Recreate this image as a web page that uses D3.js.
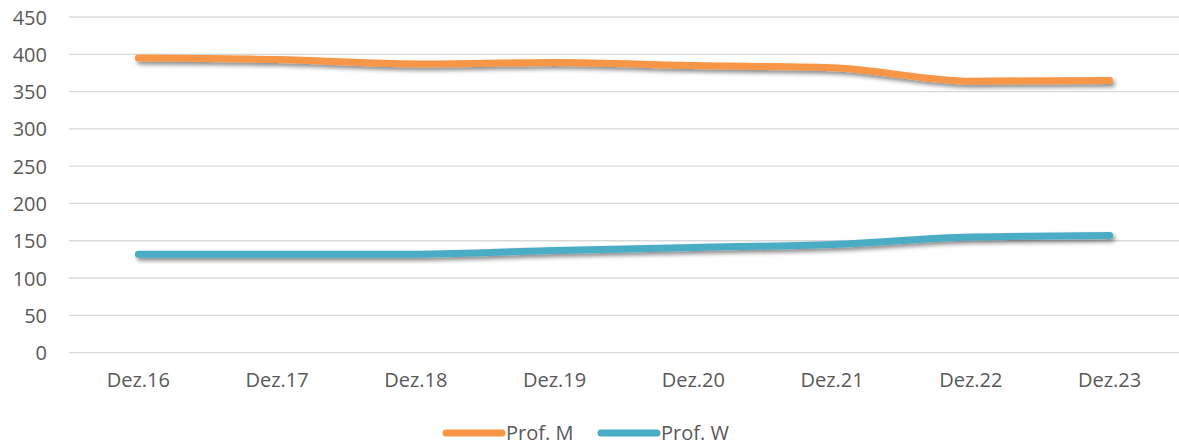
<!DOCTYPE html>
<html>
<head>
<meta charset="utf-8">
<script src="https://cdn.jsdelivr.net/npm/d3@7"></script>
<style>
  body { margin: 0; background: #fff; }
  svg text { font-family: "Open Sans", sans-serif; }
  .tick text { fill: #595959; font-size: 20px; }
</style>
</head>
<body>
<div id="chart"></div>
<script>
var categories = ["Dez.16", "Dez.17", "Dez.18", "Dez.19", "Dez.20", "Dez.21", "Dez.22", "Dez.23"];
var profM = [395, 393, 387, 389, 385, 382, 364, 365];
var profW = [132, 132, 132, 137, 141, 145, 155, 157];
var yTicks = [0, 50, 100, 150, 200, 250, 300, 350, 400, 450];
var seriesNames = ["Prof. M", "Prof. W"];
var seriesColors = ["#F79646", "#4BACC6"];

var width = 1179, height = 448;
var plotLeft = 69, plotRight = 1179, plotTop = 17, plotBottom = 352.6;

var svg = d3.select("#chart").append("svg")
  .attr("width", width)
  .attr("height", height);

// drop shadow like the office chart
var defs = svg.append("defs");
var f = defs.append("filter").attr("id", "shadow")
  .attr("x", "-5%").attr("y", "-50%").attr("width", "110%").attr("height", "200%");
f.append("feDropShadow")
  .attr("dx", 2).attr("dy", 3)
  .attr("stdDeviation", 2.2)
  .attr("flood-color", "#000")
  .attr("flood-opacity", 0.45);

var x = d3.scaleBand().domain(categories).range([plotLeft, plotRight]);
var y = d3.scaleLinear().domain([0, 450]).range([plotBottom, plotTop]);

// gridlines
svg.append("g").selectAll("line")
  .data(yTicks)
  .enter().append("line")
  .attr("x1", plotLeft).attr("x2", plotRight)
  .attr("y1", function(d) { return y(d); })
  .attr("y2", function(d) { return y(d); })
  .attr("stroke", "#D9D9D9")
  .attr("stroke-width", 1.3);

// y axis labels
var yAxis = svg.append("g")
  .attr("transform", "translate(" + (plotLeft - 22) + ",0)")
  .call(d3.axisLeft(y).tickValues(yTicks).tickSize(0).tickPadding(0));
yAxis.select(".domain").remove();
yAxis.selectAll("text").attr("dy", "0.35em");

// x axis labels
var xAxis = svg.append("g")
  .attr("transform", "translate(0," + plotBottom + ")")
  .call(d3.axisBottom(x).tickSize(0).tickPadding(20));
xAxis.select(".domain").remove();

var line = d3.line()
  .x(function(d, i) { return x(categories[i]) + x.bandwidth() / 2; })
  .y(function(d) { return y(d); })
  .curve(d3.curveMonotoneX);

[profM, profW].forEach(function(vals, k) {
  svg.append("path")
    .datum(vals)
    .attr("fill", "none")
    .attr("stroke", seriesColors[k])
    .attr("stroke-width", 7)
    .attr("stroke-linecap", "round")
    .attr("stroke-linejoin", "round")
    .attr("filter", "url(#shadow)")
    .attr("d", line);
});

// legend
var legendX = [446, 601];
var legend = svg.append("g");
seriesNames.forEach(function(name, k) {
  legend.append("line")
    .attr("x1", legendX[k]).attr("x2", legendX[k] + 56)
    .attr("y1", 433).attr("y2", 433)
    .attr("stroke", seriesColors[k])
    .attr("stroke-width", 7)
    .attr("stroke-linecap", "round");
  legend.append("text")
    .attr("x", legendX[k] + 60)
    .attr("y", 433)
    .attr("dy", "0.35em")
    .attr("fill", "#595959")
    .attr("font-size", 20)
    .text(name);
});
</script>
</body>
</html>
